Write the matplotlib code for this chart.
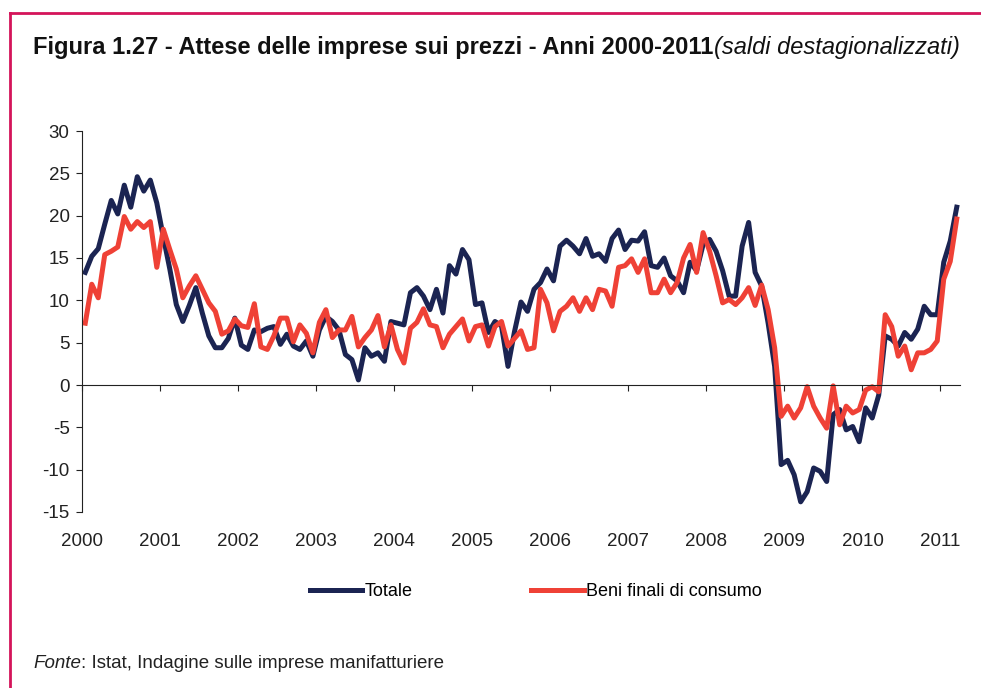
import numpy as np
import matplotlib.pyplot as plt
from matplotlib.lines import Line2D

# Dati mensili gen 2000 - mar 2011 (saldi destagionalizzati)
anni = ['2000', '2001', '2002', '2003', '2004', '2005',
        '2006', '2007', '2008', '2009', '2010', '2011']

totale = [
    13.3, 15.2, 16.1, 19.0, 21.8, 20.2, 23.6, 21.0, 24.6, 22.9, 24.2, 21.5,   # 2000
    17.5, 13.7, 9.5, 7.5, 9.4, 11.5, 8.5, 5.8, 4.4, 4.4, 5.5, 7.9,            # 2001
    4.7, 4.2, 6.5, 6.3, 6.7, 6.9, 4.8, 6.0, 4.6, 4.2, 5.2, 3.4,               # 2002
    6.5, 8.1, 7.5, 6.5, 3.6, 3.0, 0.6, 4.4, 3.4, 3.8, 2.8, 7.5,               # 2003
    7.3, 7.1, 10.9, 11.5, 10.5, 8.9, 11.3, 8.5, 14.1, 13.1, 16.0, 14.8,       # 2004
    9.5, 9.7, 6.2, 7.5, 7.0, 2.2, 6.3, 9.8, 8.7, 11.3, 12.1, 13.7,            # 2005
    12.3, 16.4, 17.1, 16.4, 15.5, 17.3, 15.2, 15.5, 14.6, 17.3, 18.3, 16.0,   # 2006
    17.1, 17.0, 18.1, 14.1, 13.9, 15.0, 12.9, 12.3, 10.9, 14.5, 13.5, 16.6,   # 2007
    17.2, 15.8, 13.5, 10.5, 10.5, 16.4, 19.2, 13.3, 11.7, 7.3, 2.2, -9.4,     # 2008
    -8.9, -10.6, -13.8, -12.6, -9.8, -10.2, -11.4, -3.5, -2.9, -5.3, -4.9, -6.7,  # 2009
    -2.7, -3.9, -1.2, 5.8, 5.4, 4.6, 6.2, 5.4, 6.6, 9.3, 8.3, 8.3,            # 2010
    14.5, 17.0, 21.0,                                                         # 2011
]

beni_consumo = [
    7.3, 11.9, 10.3, 15.4, 15.8, 16.3, 19.9, 18.4, 19.3, 18.6, 19.3, 13.9,    # 2000
    18.4, 16.0, 13.7, 10.3, 11.7, 12.9, 11.3, 9.7, 8.7, 6.0, 6.4, 7.8,        # 2001
    7.0, 6.8, 9.6, 4.5, 4.2, 5.8, 7.9, 7.9, 5.1, 7.1, 6.1, 3.8,               # 2002
    7.4, 8.9, 5.6, 6.5, 6.5, 8.1, 4.5, 5.6, 6.5, 8.2, 4.5, 7.1,               # 2003
    4.2, 2.6, 6.7, 7.4, 9.0, 7.1, 6.9, 4.4, 6.0, 6.9, 7.8, 5.2,               # 2004
    6.9, 7.1, 4.6, 6.9, 7.5, 4.6, 5.5, 6.4, 4.2, 4.4, 11.3, 9.7,              # 2005
    6.4, 8.7, 9.3, 10.3, 8.7, 10.3, 8.9, 11.3, 11.1, 9.3, 13.9, 14.1,         # 2006
    14.9, 13.3, 14.9, 10.9, 10.9, 12.5, 10.9, 12.1, 15.0, 16.6, 13.3, 18.0,   # 2007
    15.8, 12.9, 9.7, 10.1, 9.5, 10.3, 11.5, 9.4, 11.8, 8.9, 4.4, -3.7,        # 2008
    -2.5, -3.9, -2.7, -0.2, -2.5, -3.9, -5.1, -0.1, -4.7, -2.5, -3.3, -2.9,   # 2009
    -0.6, -0.2, -0.8, 8.3, 6.9, 3.4, 4.6, 1.8, 3.8, 3.8, 4.2, 5.2,            # 2010
    12.5, 14.6, 19.6,                                                         # 2011
]

navy = '#1b2452'
rosso = '#ef4136'
cornice = '#d4145a'

plt.rcParams['font.family'] = ['Liberation Sans', 'DejaVu Sans']
plt.rcParams['axes.unicode_minus'] = False

W, H = 981, 688
fig = plt.figure(figsize=(W / 100, H / 100), dpi=100)
ax = fig.add_axes([82 / W, 1 - 512 / H, (960 - 82) / W, (512 - 131) / H])

mesi = np.arange(len(totale))
ax.plot(mesi, totale, color=navy, lw=3.6, label='Totale')
ax.plot(mesi, beni_consumo, color=rosso, lw=3.6, label='Beni finali di consumo')

ax.set_xlim(-0.5, 134.5)
ax.set_ylim(-15, 30)
ax.set_yticks(range(-15, 31, 5))

for s in ['top', 'right']:
    ax.spines[s].set_visible(False)
ax.spines['left'].set_color('#222222')
ax.spines['bottom'].set_color('#222222')
ax.spines['bottom'].set_position(('data', 0))

tick_pos = np.arange(0, len(totale), 12) - 0.5
ax.set_xticks(tick_pos)
ax.tick_params(axis='x', direction='out', length=4, color='#222222', labelbottom=False)
ax.tick_params(axis='y', direction='out', length=4, color='#222222', labelsize=13.5, pad=5,
               labelcolor='#222222')

# etichette degli anni sotto il grafico
sec = ax.secondary_xaxis(0.0)
sec.set_xticks(tick_pos, anni)
sec.tick_params(length=0, labelsize=13.5, pad=15, labelcolor='#222222')
sec.spines['bottom'].set_visible(False)

fig.legend(loc='center', bbox_to_anchor=(0.546, 1 - 592 / H), ncol=2, frameon=False,
           handlelength=2.9, handletextpad=0.1, columnspacing=6.6, fontsize=13)

# titolo: parte in grassetto + parte in corsivo
fig.canvas.draw()
r = fig.canvas.get_renderer()
t1 = fig.text(33 / W, 1 - 54 / H, 'Figura 1.27 - Attese delle imprese sui prezzi - Anni 2000-2011',
              fontsize=17, fontweight='bold', va='baseline', color='#111111')
bb = t1.get_window_extent(r)
fig.text((bb.x1 + 1) / W, 1 - 54 / H, '(saldi destagionalizzati)',
         fontsize=17, style='italic', va='baseline', color='#111111')

# fonte
f1 = fig.text(33 / W, 1 - 668 / H, 'Fonte', fontsize=13.5, style='italic', va='baseline', color='#222222')
bb = f1.get_window_extent(r)
fig.text(bb.x1 / W, 1 - 668 / H, ': Istat, Indagine sulle imprese manifatturiere',
         fontsize=13.5, va='baseline', color='#222222')

# cornice
fig.add_artist(Line2D([10 / W, 10 / W], [0, 1 - 13 / H], color=cornice, lw=2, transform=fig.transFigure))
fig.add_artist(Line2D([10 / W, 1], [1 - 13 / H, 1 - 13 / H], color=cornice, lw=2, transform=fig.transFigure))

fig.savefig('out.png', dpi=100)
